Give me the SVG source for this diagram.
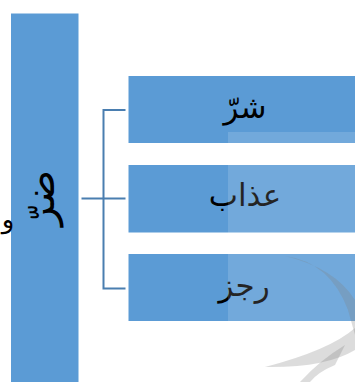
<svg xmlns="http://www.w3.org/2000/svg" width="355" height="382" viewBox="0 0 355 382">
<style>
.box{fill:#5b9bd5;stroke:#ffffff;stroke-width:1}
.lbl{font-family:"DejaVu Sans",sans-serif;font-size:31px;fill:#000000;text-anchor:middle}
.conn{fill:none;stroke:#4a7eb0;stroke-width:2}
.wm{fill:#808080;fill-opacity:0.28}
</style>
<rect width="355" height="382" fill="#ffffff"/>
<g id="node-main">
<rect class="box" x="10.5" y="13" width="68.5" height="370"/>
<text class="lbl" x="0" y="0" style="font-size:40px" transform="translate(54,198) rotate(-90)">ضرّ</text>
</g>
<text id="lbl-waw" x="8" y="228" style="font-family:'DejaVu Sans',sans-serif;font-size:26px;text-anchor:middle">و</text>
<g id="connectors">
<path class="conn" d="M81.5,198.5 H103.5 M125.5,110 H103.5 V288.5 H125.5 M103.5,198.5 H125.5"/>
</g>
<g id="node-sharr">
<rect class="box" x="128" y="75.5" width="230" height="68"/>
<text class="lbl" x="245" y="118">شرّ</text>
</g>
<g id="node-adhab">
<rect class="box" x="128" y="164.5" width="230" height="68.5"/>
<text class="lbl" x="245" y="206">عذاب</text>
</g>
<g id="node-rijz">
<rect class="box" x="128" y="253.5" width="230" height="68"/>
<text class="lbl" x="244" y="296">رجز</text>
</g>
<g id="watermark">
<rect x="228" y="132" width="127" height="250" fill="#ffffff" fill-opacity="0.14"/>
<path class="wm" d="M285,256 Q330,262 348,310 L355,335 L355,300 Q335,268 285,256 Z"/>
<path class="wm" d="M355,328 Q330,350 265,367 Q325,368 355,350 Z"/>
<path class="wm" d="M300,382 Q320,360 345,345 L335,365 Q318,372 310,382 Z"/>
</g>
</svg>
